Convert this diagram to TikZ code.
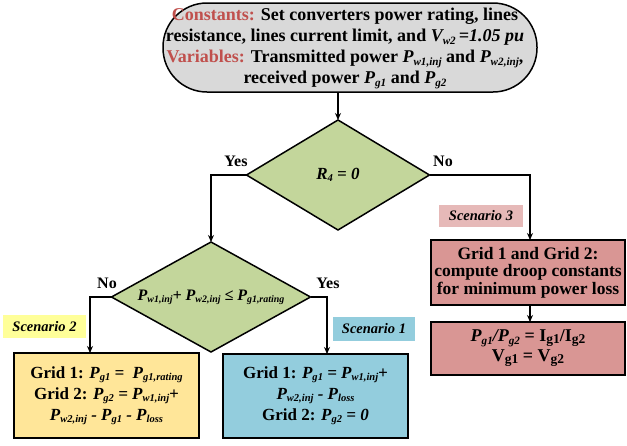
\documentclass[tikz,border=0pt]{standalone}
\usepackage{fontspec}
\setmainfont{Liberation Serif}
\usetikzlibrary{shapes.geometric,arrows.meta}
\definecolor{redtxt}{HTML}{C0504D}
\definecolor{topfill}{HTML}{D9D9D9}
\definecolor{diafill}{HTML}{C3D69B}
\definecolor{redfill}{HTML}{D99694}
\definecolor{redlab}{HTML}{E6B9B8}
\definecolor{bluefill}{HTML}{93CDDD}
\definecolor{yelfill}{HTML}{FFE699}
\definecolor{yellab}{HTML}{FFFF99}
\newcommand\sbs[1]{\raisebox{-0.3ex}{\scalebox{0.62}{#1}}}
\newcommand\sbsb[1]{\raisebox{-0.25ex}{\scalebox{0.75}{#1}}}
\begin{document}
\begin{tikzpicture}[x=1pt,y=-1pt,
  font=\bfseries\fontsize{17}{21}\selectfont,
  every node/.style={inner sep=0pt, outer sep=0pt},
  boxed/.style={draw, line width=1.5pt, align=center},
  dia/.style={diamond, draw, line width=1.5pt, fill=diafill, aspect=1.66},
  lab/.style={font=\bfseries\itshape\fontsize{14.5}{16}\selectfont},
  conn/.style={line width=1.3pt, -{Stealth[length=7pt,width=6pt]}},
  yn/.style={font=\bfseries\fontsize{16}{18}\selectfont}]
\useasboundingbox (0,0) rectangle (627,445);

\node[boxed, fill=topfill, rounded corners=44pt, minimum width=374pt, minimum height=89pt,
  label={[xshift=-5pt,yshift=-1pt,align=center,font=\bfseries\fontsize{18}{21}\selectfont]center:{\color{redtxt}Constants:} Set converters power rating, lines\\
resistance, lines current limit, and \textit{V\sbs{w2}\,=1.05 pu}\\
{\color{redtxt}Variables:} Transmitted power \textit{P\sbs{w1,inj}} and \textit{P\sbs{w2,inj}},\\
received power \textit{P\sbs{g1}} and \textit{P\sbs{g2}}}] (top) at (350,47.5) {};

\node[dia, minimum width=183pt, minimum height=110pt,
  label={[font=\bfseries\itshape\fontsize{17}{18}\selectfont]center:R\sbs{4} = 0}] (d1) at (338,175) {};

\node[dia, minimum width=199pt, minimum height=110pt,
  label={[font=\bfseries\itshape\fontsize{16}{18}\selectfont]center:P\sbs{w1,inj}+ P\sbs{w2,inj} ≤ P\sbs{g1,rating}}] (d2) at (211,297) {};

\node[boxed, fill=redfill, minimum width=194pt, minimum height=65pt,
  font=\bfseries\fontsize{17.5}{17.5}\selectfont] (r1) at (528,272.5)
  {Grid 1 and Grid 2:\\compute droop constants\\for minimum power loss};
\node[boxed, fill=redfill, minimum width=194pt, minimum height=53pt,
  font=\bfseries\fontsize{18}{20}\selectfont] (r2) at (528,348.5)
  {\textit{P\sbs{g1}/P\sbs{g2}} = I\sbsb{g1}/I\sbsb{g2}\\V\sbsb{g1} = V\sbsb{g2}};

\node[boxed, fill=yelfill, minimum width=185pt, minimum height=85pt] (yb) at (106.5,395.5)
  {Grid 1: \textit{P\sbs{g1} = \ P\sbs{g1,rating}}\\
   Grid 2: \textit{P\sbs{g2} = P\sbs{w1,inj}+}\\
   \textit{P\sbs{w2,inj} - P\sbs{g1} - P\sbs{loss}}};
\node[boxed, fill=bluefill, minimum width=185pt, minimum height=84pt] (bb) at (315.5,396)
  {Grid 1: \textit{P\sbs{g1} = P\sbs{w1,inj}+}\\
   \textit{P\sbs{w2,inj} - P\sbs{loss}}\\
   Grid 2: \textit{P\sbs{g2} = 0}};

\node[lab, fill=yellab, minimum width=83pt, minimum height=23pt] (s2) at (44.5,326.5) {Scenario 2};
\node[lab, fill=bluefill, minimum width=82pt, minimum height=24pt] (s1) at (374,329) {Scenario 1};
\node[lab, fill=redlab, minimum width=84pt, minimum height=22pt] (s3) at (481,216) {Scenario 3};

\node[yn] (y1) at (236,161) {Yes};
\node[yn] (n1) at (443,161) {No};
\node[yn] (n2) at (107,283) {No};
\node[yn] (y2) at (328,283) {Yes};

\draw[conn] (d1.north |- top.south) -- (d1.north);
\draw[conn] (d1.west) -| (d2.north);
\draw[conn] (d1.east) -| ([xshift=2pt]r1.north);
\draw[conn] ([xshift=2pt]r1.south) -- ([xshift=2pt]r2.north);
\draw[conn] (d2.west) -| ([xshift=76pt]yb.north west);
\draw[conn] (d2.east) -| ([xshift=104pt]bb.north west);
\end{tikzpicture}
\end{document}
